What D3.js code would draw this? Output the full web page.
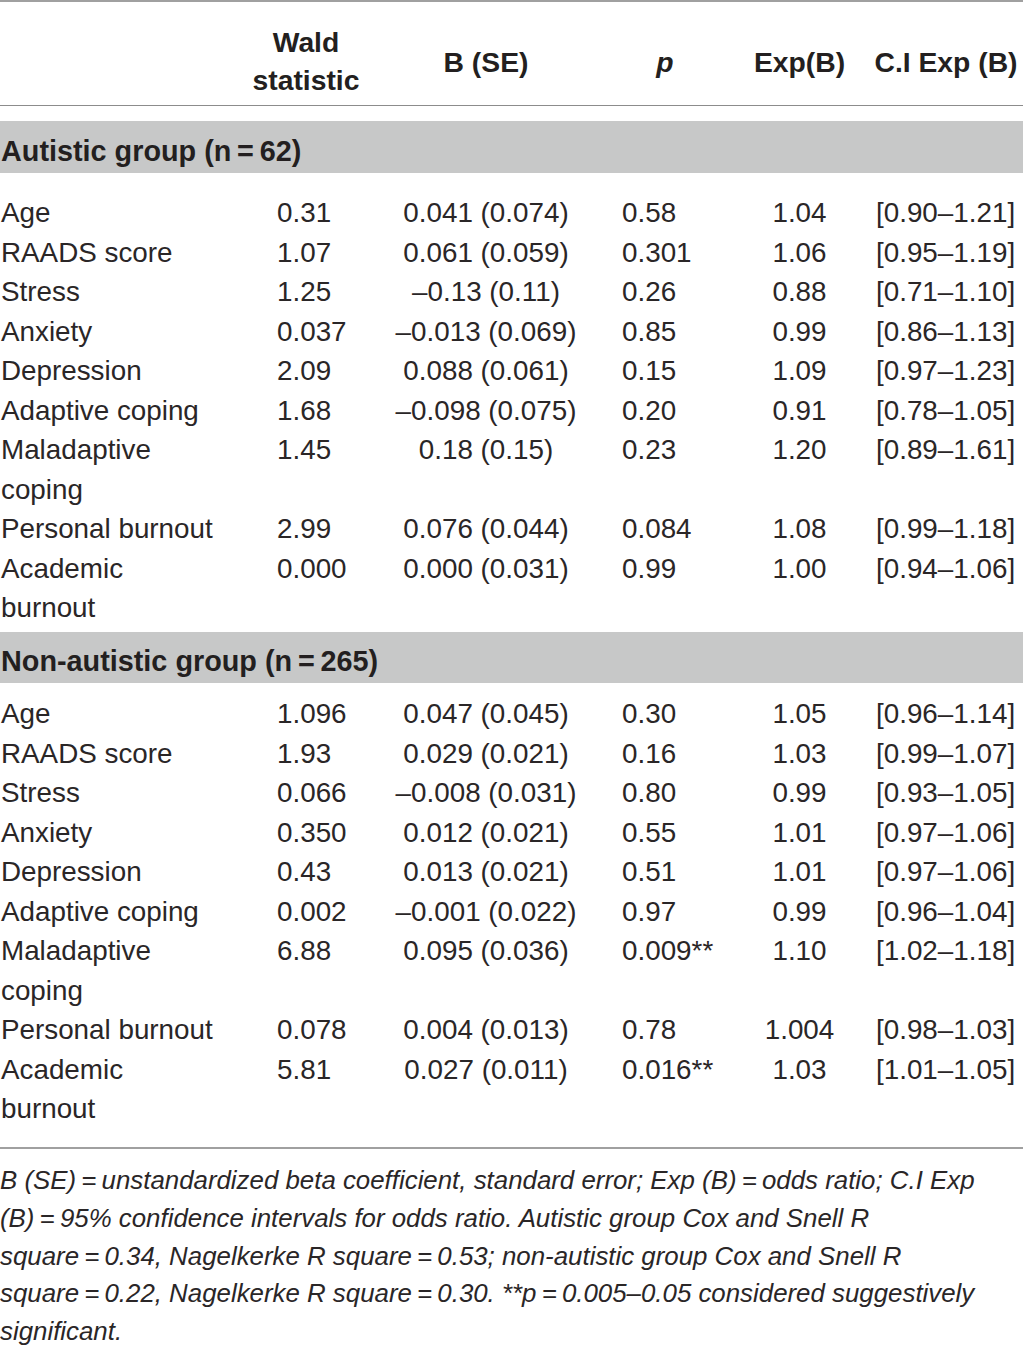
<!DOCTYPE html>
<html lang="en">
<head>
  <meta charset="utf-8">
  <title>Logistic regression table</title>
  <script src="https://d3js.org/d3.v7.min.js"></script>
  <style>
    body { margin: 0; background: #fff; }
    text { font-family: "Liberation Sans", Arial, sans-serif; fill: #231f20; }
    .head { font-weight: bold; font-size: 28.3px; }
    .group { font-weight: bold; font-size: 28.8px; }
    .cell { font-size: 27.8px; fill: #2a2627; }
    .note { font-style: italic; font-size: 24px; fill: #2a2627; }
  </style>
</head>
<body>
  <svg id="chart"></svg>
  <script>
    // column headers ("\n" = line break)
    const columns = ["label", "wald", "b", "p", "exp", "ci"];
    const headers = ["", "Wald\nstatistic", "B (SE)", "p", "Exp(B)", "C.I Exp (B)"];
    const groups = ["Autistic group (n\u2009=\u200962)", "Non-autistic group (n\u2009=\u2009265)"];
    const variables = ["Age", "RAADS score", "Stress", "Anxiety", "Depression", "Adaptive coping",
      "Maladaptive\ncoping", "Personal burnout", "Academic\nburnout"];

    const autWald = ["0.31", "1.07", "1.25", "0.037", "2.09", "1.68", "1.45", "2.99", "0.000"];
    const autB = ["0.041 (0.074)", "0.061 (0.059)", "–0.13 (0.11)", "–0.013 (0.069)", "0.088 (0.061)",
      "–0.098 (0.075)", "0.18 (0.15)", "0.076 (0.044)", "0.000 (0.031)"];
    const autP = ["0.58", "0.301", "0.26", "0.85", "0.15", "0.20", "0.23", "0.084", "0.99"];
    const autExp = ["1.04", "1.06", "0.88", "0.99", "1.09", "0.91", "1.20", "1.08", "1.00"];
    const autCI = ["[0.90–1.21]", "[0.95–1.19]", "[0.71–1.10]", "[0.86–1.13]", "[0.97–1.23]",
      "[0.78–1.05]", "[0.89–1.61]", "[0.99–1.18]", "[0.94–1.06]"];

    const nonWald = ["1.096", "1.93", "0.066", "0.350", "0.43", "0.002", "6.88", "0.078", "5.81"];
    const nonB = ["0.047 (0.045)", "0.029 (0.021)", "–0.008 (0.031)", "0.012 (0.021)", "0.013 (0.021)",
      "–0.001 (0.022)", "0.095 (0.036)", "0.004 (0.013)", "0.027 (0.011)"];
    const nonP = ["0.30", "0.16", "0.80", "0.55", "0.51", "0.97", "0.009**", "0.78", "0.016**"];
    const nonExp = ["1.05", "1.03", "0.99", "1.01", "1.01", "0.99", "1.10", "1.004", "1.03"];
    const nonCI = ["[0.96–1.14]", "[0.99–1.07]", "[0.93–1.05]", "[0.97–1.06]", "[0.97–1.06]",
      "[0.96–1.04]", "[1.02–1.18]", "[0.98–1.03]", "[1.01–1.05]"];

    const footnote = [
      "B (SE)\u2009=\u2009unstandardized beta coefficient, standard error; Exp (B)\u2009=\u2009odds ratio; C.I Exp",
      "(B)\u2009=\u200995% confidence intervals for odds ratio. Autistic group Cox and Snell R",
      "square\u2009=\u20090.34, Nagelkerke R square\u2009=\u20090.53; non-autistic group Cox and Snell R",
      "square\u2009=\u20090.22, Nagelkerke R square\u2009=\u20090.30. **p\u2009=\u20090.005–0.05 considered suggestively",
      "significant."
    ];

    const W = 1023, H = 1346;
    const lineStep = 39.5;

    const svg = d3.select("#chart").attr("width", W).attr("height", H);

    const xCol = d3.scaleOrdinal().domain(columns).range([1, 277, 486, 622, 799.5, 876]);
    const headX = d3.scaleOrdinal().domain(columns).range([1, 306, 486, 665, 799.5, 946]);
    const anchor = d3.scaleOrdinal().domain(columns)
      .range(["start", "start", "middle", "start", "middle", "start"]);

    // rules
    const rules = [{ y: 1, w: 2, c: "#a0a0a0" }, { y: 105.5, w: 1.2, c: "#8c8c8c" }, { y: 1148, w: 2, c: "#a0a0a0" }];
    svg.selectAll("line.rule").data(rules).enter().append("line")
      .attr("class", "rule")
      .attr("x1", 0).attr("x2", W)
      .attr("y1", d => d.y).attr("y2", d => d.y)
      .attr("stroke", d => d.c).attr("stroke-width", d => d.w);

    // header
    svg.selectAll("text.head").data(columns.slice(1)).enter().append("text")
      .attr("class", "head")
      .attr("text-anchor", "middle")
      .attr("font-style", d => d === "p" ? "italic" : null)
      .each(function (d) {
        const lines = headers[columns.indexOf(d)].split("\n");
        const top = lines.length > 1 ? 52 : 72;
        d3.select(this).selectAll("tspan").data(lines).enter().append("tspan")
          .attr("x", headX(d))
          .attr("y", (l, i) => top + i * 38)
          .text(l => l);
      });

    const tables = [
      { name: groups[0], band: [121, 173], title: 161, first: 222,
        cols: [variables, autWald, autB, autP, autExp, autCI] },
      { name: groups[1], band: [632, 683], title: 671, first: 723,
        cols: [variables, nonWald, nonB, nonP, nonExp, nonCI] }
    ];

    tables.forEach(t => {
      const g = svg.append("g");
      g.append("rect")
        .attr("x", 0).attr("y", t.band[0])
        .attr("width", W).attr("height", t.band[1] - t.band[0])
        .attr("fill", "#c7c8c8");
      g.append("text")
        .attr("class", "group")
        .attr("x", 1).attr("y", t.title)
        .text(t.name);

      // line index of every variable row
      const start = [];
      let n = 0;
      variables.forEach(v => { start.push(n); n += v.split("\n").length; });
      const y = d3.scaleLinear().domain([0, 1]).range([t.first, t.first + lineStep]);

      columns.forEach((c, ci) => {
        g.selectAll(null).data(t.cols[ci]).enter().append("text")
          .attr("class", "cell")
          .attr("text-anchor", anchor(c))
          .each(function (d, i) {
            d3.select(this).selectAll("tspan").data(d.split("\n")).enter().append("tspan")
              .attr("x", xCol(c))
              .attr("y", (l, k) => y(start[i] + k))
              .text(l => l);
          });
      });
    });

    // footnote
    const notes = svg.append("g");
    const noteY = d3.scaleLinear().domain([0, 1]).range([1189, 1226.8]);
    const nt = notes.selectAll("text").data(footnote).enter().append("text")
      .attr("class", "note")
      .attr("x", 0)
      .attr("y", (d, i) => noteY(i))
      .text(d => d);
    // fit first line to the page width as in the printed table
    const w0 = nt.node().getComputedTextLength();
    nt.style("font-size", (24 * 975 / w0) + "px");
  </script>
</body>
</html>
